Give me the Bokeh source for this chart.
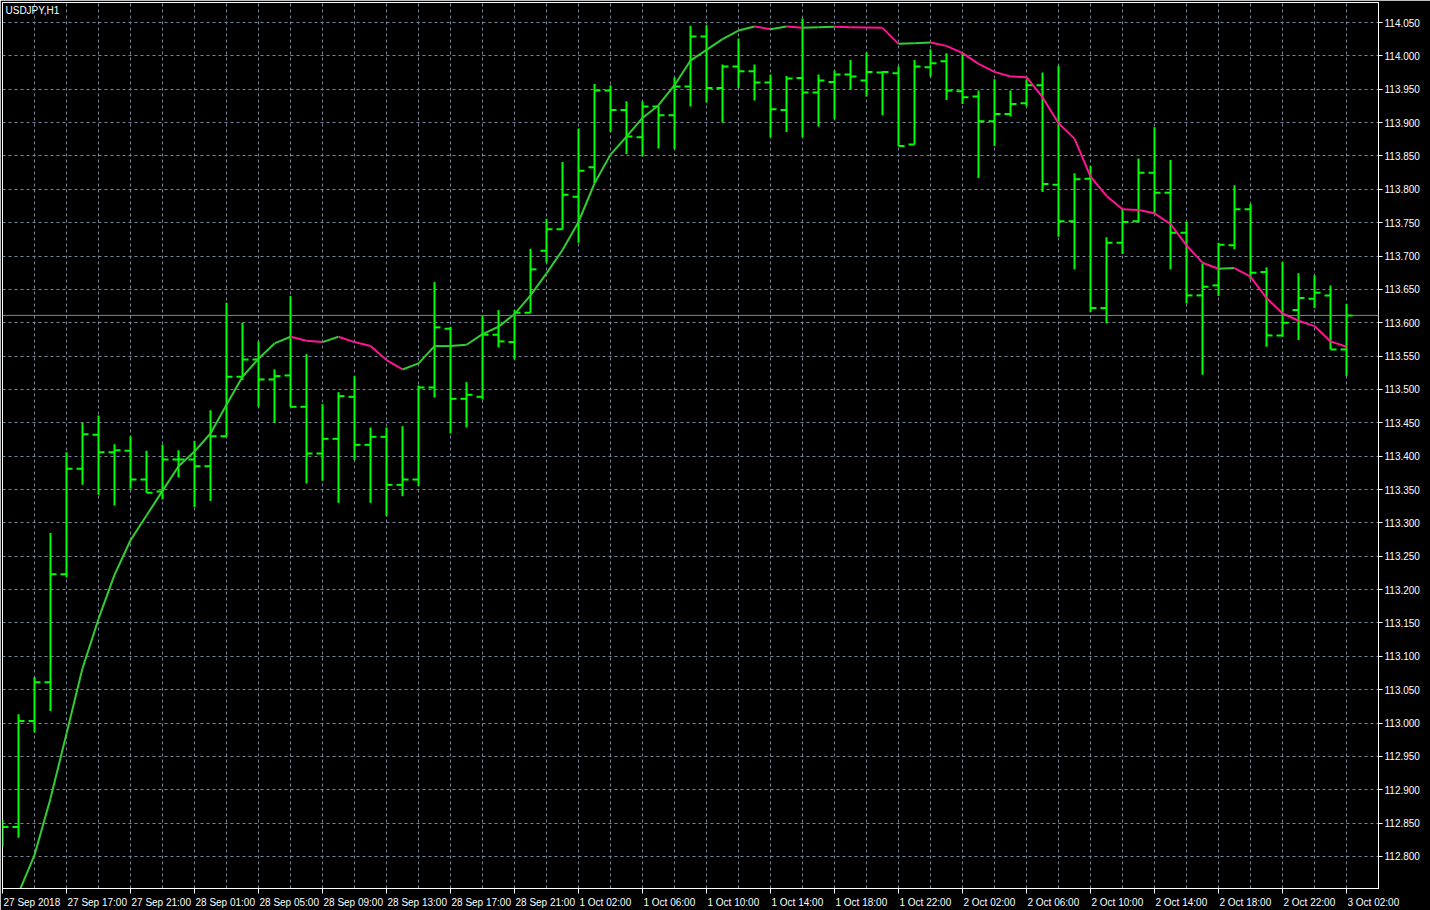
from bokeh.plotting import figure
from bokeh.models import (Range1d, FixedTicker, Span, Label, PrintfTickFormatter, ColumnDataSource,
                          LinearAxis)
from bokeh.embed import file_html
from bokeh.resources import INLINE

symbol = "USDJPY,H1"
last_price = 113.611

opens = [112.835, 112.844, 113.003, 113.061, 113.223, 113.381, 113.432, 113.406, 113.408, 113.365,
         113.347, 113.395, 113.395, 113.385, 113.430, 113.519, 113.545, 113.515, 113.521, 113.474,
         113.404, 113.426, 113.489, 113.417, 113.429, 113.357, 113.365, 113.503, 113.591, 113.486,
         113.489, 113.582, 113.571, 113.615, 113.708, 113.740, 113.789, 113.833, 113.948, 113.919,
         113.878, 113.924, 113.911, 113.954, 114.029, 113.952, 113.984, 113.977, 113.960, 113.919,
         113.967, 113.945, 113.961, 113.972, 113.963, 113.975, 113.974, 113.867, 113.983, 113.992,
         113.947, 113.939, 113.902, 113.913, 113.929, 113.956, 113.807, 113.752, 113.816, 113.622,
         113.720, 113.752, 113.825, 113.795, 113.735, 113.641, 113.656, 113.716, 113.770, 113.676,
         113.581, 113.619, 113.636, 113.641, 113.560]
highs = [112.855, 113.013, 113.069, 113.285, 113.406, 113.450, 113.461, 113.418, 113.430, 113.408,
         113.417, 113.409, 113.423, 113.469, 113.630, 113.600, 113.572, 113.530, 113.640, 113.553,
         113.478, 113.496, 113.520, 113.443, 113.443, 113.445, 113.506, 113.661, 113.594, 113.511,
         113.610, 113.619, 113.619, 113.711, 113.756, 113.841, 113.891, 113.958, 113.956, 113.932,
         113.932, 113.925, 113.968, 114.045, 114.046, 113.987, 114.026, 113.987, 113.972, 113.970,
         114.056, 113.972, 113.978, 113.994, 114.005, 113.977, 113.984, 113.994, 114.010, 114.004,
         114.003, 113.948, 113.965, 113.948, 113.965, 113.975, 113.985, 113.824, 113.835, 113.728,
         113.770, 113.846, 113.893, 113.844, 113.751, 113.689, 113.720, 113.806, 113.778, 113.683,
         113.691, 113.674, 113.671, 113.656, 113.628]
lows = [112.815, 112.828, 112.986, 113.018, 113.218, 113.357, 113.342, 113.326, 113.351, 113.345,
        113.335, 113.368, 113.324, 113.333, 113.430, 113.514, 113.474, 113.450, 113.474, 113.359,
        113.363, 113.330, 113.394, 113.330, 113.310, 113.340, 113.355, 113.488, 113.434, 113.443,
        113.485, 113.563, 113.545, 113.615, 113.690, 113.740, 113.720, 113.809, 113.886, 113.853,
        113.849, 113.861, 113.860, 113.924, 113.930, 113.900, 113.952, 113.933, 113.878, 113.886,
        113.878, 113.894, 113.905, 113.950, 113.939, 113.911, 113.865, 113.867, 113.969, 113.934,
        113.928, 113.817, 113.865, 113.909, 113.924, 113.796, 113.729, 113.680, 113.616, 113.599,
        113.703, 113.751, 113.765, 113.680, 113.629, 113.522, 113.640, 113.710, 113.665, 113.564,
        113.579, 113.574, 113.622, 113.560, 113.520]
closes = [112.844, 113.003, 113.061, 113.223, 113.381, 113.433, 113.406, 113.409, 113.365, 113.345,
          113.395, 113.395, 113.385, 113.430, 113.519, 113.545, 113.515, 113.520, 113.474, 113.404,
          113.426, 113.490, 113.417, 113.429, 113.357, 113.365, 113.503, 113.593, 113.486, 113.492,
          113.582, 113.572, 113.615, 113.680, 113.740, 113.792, 113.828, 113.948, 113.919, 113.879,
          113.924, 113.911, 113.954, 114.029, 113.952, 113.984, 113.977, 113.960, 113.920, 113.966,
          113.945, 113.963, 113.972, 113.969, 113.976, 113.976, 113.865, 113.984, 113.989, 113.948,
          113.938, 113.902, 113.913, 113.928, 113.956, 113.808, 113.752, 113.815, 113.622, 113.720,
          113.751, 113.825, 113.795, 113.735, 113.641, 113.654, 113.717, 113.770, 113.675, 113.581,
          113.600, 113.637, 113.645, 113.560, 113.611]
ma_values = [112.690, 112.745, 112.802, 112.887, 112.984, 113.082, 113.156, 113.222, 113.274, 113.311,
             113.348, 113.385, 113.407, 113.434, 113.477, 113.519, 113.546, 113.569, 113.579, 113.573,
             113.571, 113.579, 113.571, 113.565, 113.544, 113.530, 113.539, 113.565, 113.565, 113.567,
             113.583, 113.594, 113.613, 113.641, 113.674, 113.709, 113.751, 113.809, 113.852, 113.879,
             113.907, 113.926, 113.956, 113.993, 114.009, 114.025, 114.038, 114.044, 114.040, 114.044,
             114.042, 114.043, 114.0435, 114.043, 114.0425, 114.042, 114.018, 114.019, 114.020, 114.015,
             114.004, 113.988, 113.976, 113.969, 113.968, 113.938, 113.899, 113.876, 113.819, 113.790,
             113.770, 113.769, 113.764, 113.748, 113.716, 113.690, 113.681, 113.682, 113.669, 113.637,
             113.614, 113.603, 113.595, 113.572, 113.564]

time_tick_bars = [0, 4, 8, 12, 16, 20, 24, 28, 32, 36, 40, 44, 48, 52, 56, 60, 64, 68, 72, 76, 80, 84]
time_tick_labels = ["27 Sep 2018", "27 Sep 17:00", "27 Sep 21:00", "28 Sep 01:00", "28 Sep 05:00",
                    "28 Sep 09:00", "28 Sep 13:00", "28 Sep 17:00", "28 Sep 21:00", "1 Oct 02:00",
                    "1 Oct 06:00", "1 Oct 10:00", "1 Oct 14:00", "1 Oct 18:00", "1 Oct 22:00",
                    "2 Oct 02:00", "2 Oct 06:00", "2 Oct 10:00", "2 Oct 14:00", "2 Oct 18:00",
                    "2 Oct 22:00", "3 Oct 02:00"]
price_ticks = [112.80, 112.85, 112.90, 112.95, 113.00, 113.05, 113.10, 113.15, 113.20, 113.25,
               113.30, 113.35, 113.40, 113.45, 113.50, 113.55, 113.60, 113.65, 113.70, 113.75,
               113.80, 113.85, 113.90, 113.95, 114.00, 114.05]

# ---------------- styling / layout ----------------
FONT = "Liberation Sans"
FS = 10  # px
BAR_COLOR = "#00FF00"
MA_UP = "#32CD32"
MA_DOWN = "#FF1493"
GRID = "#778899"
X_END = 86
W, H = 1430, 910
RIGHT_PANEL, BOTTOM_PANEL = 52, 22

p = figure(width=W, height=H, x_range=Range1d(0, X_END), y_range=Range1d(112.752, 114.080),
           output_backend="svg", toolbar_location=None, y_axis_location="right",
           background_fill_color="black", border_fill_color="black",
           min_border_left=2, min_border_top=2, min_border_right=RIGHT_PANEL,
           min_border_bottom=BOTTOM_PANEL)
p.outline_line_color = "white"
p.outline_line_width = 1

# right price axis
ya = p.yaxis[0]
ya.ticker = FixedTicker(ticks=price_ticks)
ya.formatter = PrintfTickFormatter(format="%.3f")
ya.axis_line_color = "white"
ya.major_tick_line_color = "white"
ya.major_tick_out = 4
ya.major_tick_in = 0
ya.minor_tick_line_color = None
ya.major_label_text_color = "white"
ya.major_label_text_font = FONT
ya.major_label_text_font_size = f"{FS}px"
ya.major_label_standoff = 2

# bottom time axis: labels start at their tick (left aligned look)
char_w = {" ": 0.278, ":": 0.278, "S": 0.667, "e": 0.556, "p": 0.556, "O": 0.778, "c": 0.5, "t": 0.278}
px_per_bar = (W - 2 - RIGHT_PANEL) / X_END
label_pos = []
for b, t in zip(time_tick_bars, time_tick_labels):
    wpx = sum(char_w.get(ch, 0.556) for ch in t) * FS
    label_pos.append(b + (wpx / 2 + 1.0) / px_per_bar)
xa = p.xaxis[0]
xa.ticker = FixedTicker(ticks=label_pos, minor_ticks=time_tick_bars)
xa.major_label_overrides = {pos: t for pos, t in zip(label_pos, time_tick_labels)}
xa.axis_line_color = "white"
xa.major_tick_out = 0
xa.major_tick_in = 0
xa.major_tick_line_color = None
xa.minor_tick_out = 5
xa.minor_tick_in = 0
xa.minor_tick_line_color = "white"
xa.major_label_text_color = "white"
xa.major_label_text_font = FONT
xa.major_label_text_font_size = f"{FS}px"
xa.major_label_standoff = 3

# grid
p.xgrid.ticker = FixedTicker(ticks=list(range(0, X_END + 1, 2)))
p.ygrid.ticker = FixedTicker(ticks=price_ticks)
for g in (p.xgrid, p.ygrid):
    g.grid_line_color = GRID
    g.grid_line_dash = "3 3"
    g.grid_line_width = 1

# current price line
p.add_layout(Span(location=last_price, dimension="width", line_color=GRID, line_width=1))

# OHLC bars
n = len(opens)
xs = list(range(n))
TICK = 0.375
src = ColumnDataSource(dict(x=xs, xl=[x - TICK for x in xs], xr=[x + TICK for x in xs],
                            o=opens, h=highs, l=lows, c=closes))
p.segment(x0="x", y0="l", x1="x", y1="h", source=src, line_color=BAR_COLOR, line_width=2)
p.segment(x0="xl", y0="o", x1="x", y1="o", source=src, line_color=BAR_COLOR, line_width=2)
p.segment(x0="x", y0="c", x1="xr", y1="c", source=src, line_color=BAR_COLOR, line_width=2)

# moving average, coloured by direction
ma_src = ColumnDataSource(dict(
    x0=xs[:-1], x1=xs[1:], y0=ma_values[:-1], y1=ma_values[1:],
    col=[MA_UP if b >= a else MA_DOWN for a, b in zip(ma_values[:-1], ma_values[1:])]))
p.segment(x0="x0", y0="y0", x1="x1", y1="y1", source=ma_src, line_color="col", line_width=2)

# current price tag on the price scale: a zero-size axis pinned to the frame's right edge;
# its single, very thick tick mark forms the grey tag and the label sits on top of it
TAG_W = 40
price_axis = LinearAxis(fixed_location=X_END,
                        ticker=FixedTicker(ticks=[last_price], minor_ticks=[]),
                        formatter=PrintfTickFormatter(format="%.3f"))
price_axis.axis_line_color = None
price_axis.minor_tick_line_color = None
price_axis.major_tick_line_color = GRID
price_axis.major_tick_line_width = 11
price_axis.major_tick_line_cap = "butt"
price_axis.major_tick_in = 0
price_axis.major_tick_out = TAG_W
price_axis.major_label_standoff = 3 - TAG_W
price_axis.major_label_text_color = "black"
price_axis.major_label_text_font = FONT
price_axis.major_label_text_font_size = f"{FS}px"
p.add_layout(price_axis, "right")

# symbol caption
p.add_layout(Label(x=0, y=114.080, x_offset=3, y_offset=-2, text=symbol,
                   text_font=FONT, text_font_size=f"{FS}px", text_color="white",
                   text_baseline="top", text_align="left"))

open("out.html", "w").write(file_html(p, INLINE))
